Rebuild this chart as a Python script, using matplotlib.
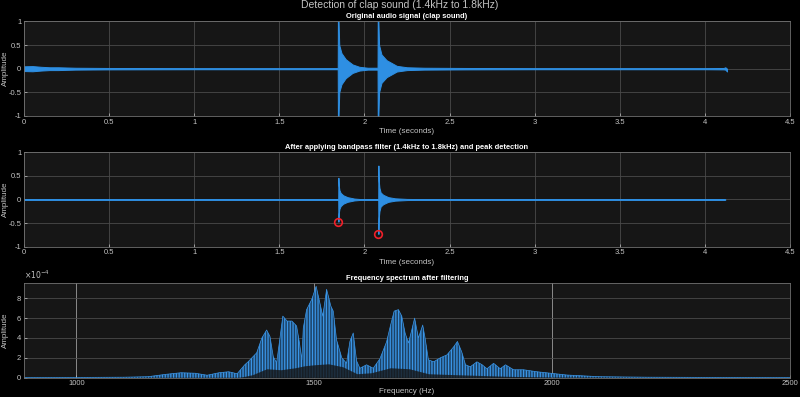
import matplotlib
matplotlib.use('Agg')
import matplotlib.pyplot as plt
import numpy as np

# original clap recording, envelope (time s, upper, lower)
orig_t = [0.0, 0.05, 0.1, 0.15, 0.2, 0.3, 0.5, 1.0, 1.5, 1.8, 1.843, 1.844, 1.848, 1.852, 1.865,
          1.89, 1.93, 1.97, 2.02, 2.077, 2.078, 2.082, 2.086, 2.1, 2.13, 2.19, 2.25, 2.35, 2.6,
          3.0, 3.5, 4.0, 4.11, 4.12, 4.13]
orig_hi = [0.05, 0.055, 0.04, 0.03, 0.03, 0.02, 0.015, 0.012, 0.012, 0.012, 0.012, 1.0, 1.0, 0.5, 0.33,
           0.2, 0.09, 0.04, 0.02, 0.02, 1.0, 1.0, 0.5, 0.3, 0.18, 0.06, 0.03, 0.02, 0.015,
           0.012, 0.012, 0.012, 0.015, 0.03, 0.0]
orig_lo = [-0.05, -0.055, -0.04, -0.03, -0.03, -0.02, -0.015, -0.012, -0.012, -0.012, -0.012, -1.0, -1.0, -0.5, -0.33,
           -0.2, -0.09, -0.04, -0.02, -0.02, -1.0, -1.0, -0.5, -0.3, -0.18, -0.06, -0.03, -0.02, -0.015,
           -0.012, -0.012, -0.012, -0.015, -0.02, -0.06]

# bandpass filtered signal envelope
filt_t = [0.0, 1.0, 1.846, 1.847, 1.849, 1.853, 1.86, 1.875, 1.9, 1.94, 1.98, 2.081, 2.082,
          2.084, 2.088, 2.095, 2.11, 2.14, 2.18, 2.25, 2.4, 3.0, 4.12]
filt_hi = [0.004, 0.004, 0.004, 0.46, 0.3, 0.2, 0.14, 0.09, 0.05, 0.02, 0.008, 0.008, 0.72,
           0.4, 0.25, 0.15, 0.1, 0.05, 0.025, 0.012, 0.006, 0.004, 0.004]
filt_lo = [-0.004, -0.004, -0.004, -0.47, -0.3, -0.2, -0.14, -0.09, -0.05, -0.02, -0.008, -0.008, -0.73,
           -0.4, -0.25, -0.15, -0.1, -0.05, -0.025, -0.012, -0.006, -0.004, -0.004]

# detected peaks
peak_t = [1.847, 2.082]
peak_amp = [-0.47, -0.73]

# spectrum after filtering (Hz, x1e-4), upper envelope of the spikes
spec_f = [890, 1000, 1100, 1150, 1190, 1220, 1250, 1275, 1300, 1320, 1338, 1354, 1361, 1379, 1390,
          1400, 1407, 1414, 1421, 1428, 1434, 1443, 1453, 1463, 1469, 1474, 1477, 1484, 1495, 1504,
          1512, 1518, 1526, 1535, 1540, 1547, 1558, 1568, 1575, 1582, 1589, 1596, 1610, 1624, 1638,
          1652, 1660, 1668, 1677, 1684, 1691, 1698, 1705, 1711, 1719, 1728, 1733, 1740, 1751, 1765,
          1779, 1793, 1801, 1810, 1818, 1828, 1842, 1853, 1863, 1877, 1891, 1902, 1919, 1940, 1968,
          1997, 2031, 2100, 2200, 2350, 2500]
spec_hi = [0.02, 0.03, 0.05, 0.1, 0.35, 0.5, 0.45, 0.25, 0.5, 0.6, 0.4, 1.3, 1.6, 2.5, 4.0,
           4.8, 4.15, 2.1, 1.5, 4.0, 6.2, 5.7, 5.7, 5.2, 3.5, 1.8, 5.0, 6.85, 7.9, 9.2,
           7.5, 6.2, 8.9, 7.2, 6.7, 3.8, 2.0, 1.45, 3.65, 4.5, 1.7, 0.95, 1.3, 0.95, 1.9,
           3.6, 5.2, 6.7, 6.85, 6.2, 4.5, 3.5, 4.8, 6.0, 4.0, 5.3, 4.0, 1.8, 1.6, 2.0,
           2.3, 3.1, 3.65, 2.6, 1.3, 1.1, 1.6, 1.3, 0.9, 1.45, 0.9, 1.3, 0.8, 0.8, 0.6,
           0.45, 0.27, 0.1, 0.05, 0.03, 0.02]
# lower envelope (dark area under the spikes)
low_f = [890, 1340, 1370, 1400, 1430, 1460, 1480, 1500, 1530, 1560, 1590, 1620, 1660, 1700, 1740,
         1800, 1900, 2000, 2500]
low_v = [0.0, 0.0, 0.3, 0.9, 0.8, 1.0, 1.2, 1.3, 1.4, 1.1, 0.4, 0.5, 1.0, 0.9, 0.4,
         0.3, 0.15, 0.05, 0.0]

time_ticks = [0, 0.5, 1, 1.5, 2, 2.5, 3, 3.5, 4, 4.5]
time_labels = ['0', '0.5', '1', '1.5', '2', '2.5', '3', '3.5', '4', '4.5']
amp_ticks = [-1, -0.5, 0, 0.5, 1]
amp_labels = ['-1', '-0.5', '0', '0.5', '1']

blue = '#2e8fe3'
face = '#161616'
gridc = '#4a4a4a'
txt = '#c4c4c4'

plt.rcParams['font.family'] = ['Liberation Sans', 'DejaVu Sans']
plt.rcParams['hatch.linewidth'] = 0.9

fig = plt.figure(figsize=(8, 3.97), dpi=100)
fig.patch.set_facecolor('black')


def style(ax, title, xlabel):
    ax.set_facecolor(face)
    for s in ax.spines.values():
        s.set_color('#707070')
        s.set_linewidth(0.6)
    ax.tick_params(colors=txt, labelsize=5.5, direction='in', length=2, width=0.5, pad=2)
    ax.grid(True, color=gridc, linewidth=0.6)
    ax.set_axisbelow(True)
    ax.set_title(title, color='white', fontsize=5.4, fontweight='bold', pad=2.5)
    ax.set_xlabel(xlabel, color=txt, fontsize=5.8)
    ax.set_ylabel('Amplitude', color=txt, fontsize=5.8)
    ax.yaxis.set_label_coords(-0.02, 0.5)


ax1 = fig.add_axes([0.03, 0.708, 0.9575, 0.238])
style(ax1, 'Original audio signal (clap sound)', 'Time (seconds)')
ax1.fill_between(orig_t, orig_lo, orig_hi, color=blue, linewidth=0.7, edgecolor=blue)
ax1.set_xlim(0, 4.5)
ax1.set_ylim(-1, 1)
ax1.set_yticks(amp_ticks)
ax1.set_yticklabels(amp_labels)
ax1.set_xticks(time_ticks)
ax1.set_xticklabels(time_labels)
ax1.xaxis.set_label_coords(0.5, -0.13)

ax2 = fig.add_axes([0.03, 0.3786, 0.9575, 0.2378])
style(ax2, 'After applying bandpass filter (1.4kHz to 1.8kHz) and peak detection', 'Time (seconds)')
ax2.fill_between(filt_t, filt_lo, filt_hi, color=blue, linewidth=0.7, edgecolor=blue)
ax2.plot(peak_t, peak_amp, 'o', markerfacecolor='none', markeredgecolor='#f0202a',
         markersize=5.5, markeredgewidth=1.2)
ax2.set_xlim(0, 4.5)
ax2.set_ylim(-1, 1)
ax2.set_yticks(amp_ticks)
ax2.set_yticklabels(amp_labels)
ax2.set_xticks(time_ticks)
ax2.set_xticklabels(time_labels)
ax2.xaxis.set_label_coords(0.5, -0.13)

ax3 = fig.add_axes([0.03, 0.0486, 0.9575, 0.2378])
style(ax3, 'Frequency spectrum after filtering', 'Frequency (Hz)')
ax3.grid(True, axis='x', color='#8a8a8a', linewidth=0.7)
hi = np.array(spec_hi) * 1e-4
lo = np.array(low_v) * 1e-4
ax3.fill_between(spec_f, 0, hi, facecolor='#1c4266', edgecolor='#3a95e6', hatch='||||||', linewidth=0)
ax3.plot(spec_f, hi, color='#3a95e6', linewidth=0.5)
ax3.fill_between(low_f, 0, lo, color=face, alpha=0.8, linewidth=0)
ax3.set_xlim(890, 2500)
ax3.set_ylim(0, 9.5e-4)
ax3.set_xticks([1000, 1500, 2000, 2500])
ax3.set_yticks([0, 2e-4, 4e-4, 6e-4, 8e-4])
ax3.set_yticklabels(['0', '2', '4', '6', '8'])
ax3.text(0.0, 1.02, r'$\times10^{-4}$', transform=ax3.transAxes, color=txt, fontsize=5.5,
         ha='left', va='bottom')
ax3.xaxis.set_label_coords(0.5, -0.11)

fig.text(0.5, 1.0, 'Detection of clap sound (1.4kHz to 1.8kHz)', color=txt, fontsize=7.5,
         ha='center', va='top')

fig.savefig('out.png', dpi=100, facecolor=fig.get_facecolor())
